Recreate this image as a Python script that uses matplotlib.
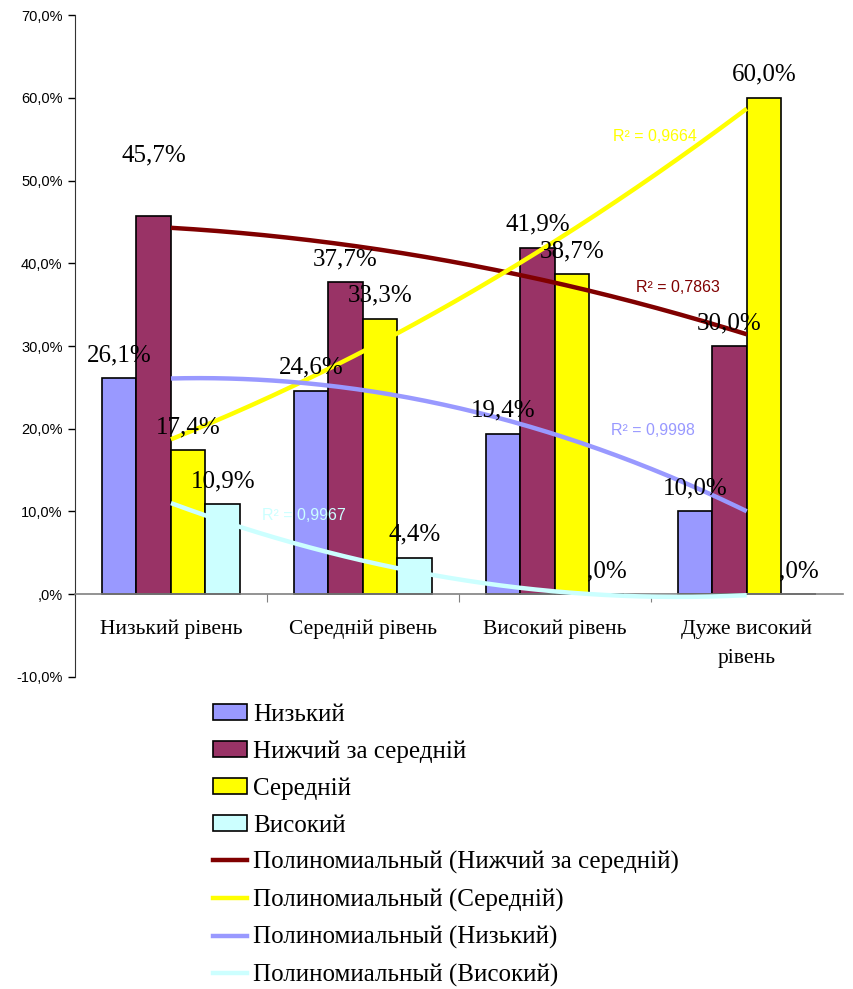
import numpy as np
import matplotlib
matplotlib.use('Agg')
import matplotlib.pyplot as plt
from matplotlib.patches import Patch
from matplotlib.lines import Line2D

# categories and series (values in %)
categories = ['Низький рівень', 'Середній рівень', 'Високий рівень', 'Дуже високий\nрівень']
series_names = ['Низький', 'Нижчий за середній', 'Середній', 'Високий']
nyzkyi = [26.1, 24.6, 19.4, 10.0]
nyzhchyi = [45.7, 37.7, 41.9, 30.0]
serednii = [17.4, 33.3, 38.7, 60.0]
vysokyi = [10.9, 4.4, 0.0, 0.0]
r2_text = {'Нижчий за середній': '0,7863', 'Середній': '0,9664',
           'Низький': '0,9998', 'Високий': '0,9967'}

values = [nyzkyi, nyzhchyi, serednii, vysokyi]
bar_colors = ['#9999FF', '#993366', '#FFFF00', '#CCFFFF']
trend_colors = {'Низький': '#9999FF', 'Нижчий за середній': '#800000',
                'Середній': '#FFFF00', 'Високий': '#CCFFFF'}
# R² label positions (data coords)
r2_pos = {'Середній': (2.52, 55.3), 'Нижчий за середній': (2.64, 37.1),
          'Низький': (2.51, 19.8), 'Високий': (0.69, 9.5)}

serif = 'Liberation Serif'
sans = 'Liberation Sans'


def fmt(v):
    s = f'{v:.1f}'.replace('.', ',')
    if s.startswith('0,'):
        s = s[1:]
    return s + '%'


fig = plt.figure(figsize=(8.54, 9.89), dpi=100)
ax = fig.add_axes([0.0878, 0.3155, 0.899, 0.6693])

x = np.arange(len(categories))
w = 0.18
for j, vals in enumerate(values):
    xs = x + (j - 1.5) * w
    ax.bar(xs, vals, w, color=bar_colors[j], edgecolor='black', linewidth=1.2, zorder=2)
    for i, v in enumerate(vals):
        off = 44 if (j == 1 and i == 0) else 16.5
        ax.annotate(fmt(v), (xs[i], v), xytext=(0, off), textcoords='offset points',
                    ha='center', va='center', fontsize=18, family=serif, zorder=5)

# polynomial (order 2) trendlines, drawn in the order of the legend
xx = np.linspace(0, 3, 200)
trend_order = ['Нижчий за середній', 'Середній', 'Низький', 'Високий']
for name in trend_order:
    vals = values[series_names.index(name)]
    p = np.polyfit(x, vals, 2)
    ax.plot(xx, np.polyval(p, xx), color=trend_colors[name], lw=3.2,
            solid_capstyle='butt', zorder=3)
    tx, ty = r2_pos[name]
    ax.text(tx, ty, 'R² = ' + r2_text[name], color=trend_colors[name],
            fontsize=11.5, family=sans, ha='center', va='center', zorder=4)

ax.set_xlim(-0.5, 3.5)
ax.set_ylim(-10, 70)
ax.set_yticks(np.arange(-10, 71, 10))
ax.set_yticklabels([fmt(t) for t in np.arange(-10, 71, 10)], family=sans, fontsize=10.5)
ax.tick_params(axis='y', direction='out', length=5, width=1, pad=4)

for s in ['top', 'right']:
    ax.spines[s].set_visible(False)
ax.spines['left'].set_color('#333333')
ax.spines['bottom'].set_position(('data', 0))
ax.spines['bottom'].set_color('#808080')
ax.spines['bottom'].set_linewidth(1.2)

ax.set_xticks([0.5, 1.5, 2.5])
ax.set_xticklabels([])
ax.tick_params(axis='x', which='major', direction='out', length=6, color='#808080')
ax.set_xticks(x, minor=True)
ax.set_xticklabels(categories, minor=True, family=serif, fontsize=15.5, linespacing=1.7)
ax.tick_params(axis='x', which='minor', length=0, pad=18)

handles = [Patch(facecolor=c, edgecolor='black', linewidth=1.2) for c in bar_colors]
labels = list(series_names)
for name in trend_order:
    handles.append(Line2D([0], [0], color=trend_colors[name], lw=3.2))
    labels.append(f'Полиномиальный ({name})')
fig.legend(handles, labels, loc='upper left', bbox_to_anchor=(0.249, 0.288),
           frameon=False, prop={'family': serif, 'size': 18},
           handlelength=1.36, handleheight=0.6, handletextpad=0.25, labelspacing=0.58,
           borderaxespad=0, borderpad=0)

fig.savefig('out.png', dpi=100)
